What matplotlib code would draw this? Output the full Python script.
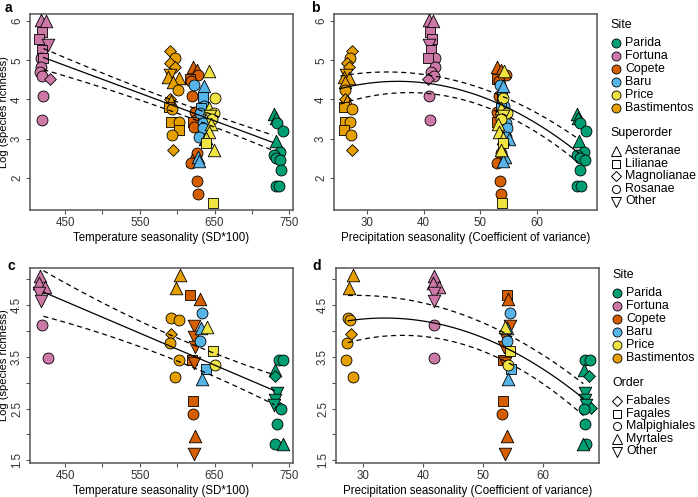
import matplotlib
matplotlib.use("Agg")
import matplotlib.pyplot as plt
from matplotlib.lines import Line2D
import numpy as np

plt.rcParams['font.family'] = ['Liberation Sans', 'DejaVu Sans']

# ---------------- categories ----------------
site_names = ['Parida', 'Fortuna', 'Copete', 'Baru', 'Price', 'Bastimentos']
site_colors = ['#009E73', '#CC79A7', '#D55E00', '#56B4E9', '#F0E442', '#E69F00']
superorder_names = ['Asteranae', 'Lilianae', 'Magnolianae', 'Rosanae', 'Other']
superorder_markers = ['^', 's', 'D', 'o', 'v']
order_names = ['Fabales', 'Fagales', 'Malpighiales', 'Myrtales', 'Other']
order_markers = ['D', 's', 'o', '^', 'v']

# ---------------- data: superorder (panels a, b) ----------------
sup_site = (['Fortuna'] * 14 + ['Bastimentos'] * 18 + ['Copete'] * 15 +
            ['Baru'] * 12 + ['Price'] * 12 + ['Parida'] * 12)
sup_group = [
    # Fortuna
    'Asteranae', 'Asteranae', 'Lilianae', 'Lilianae', 'Other', 'Lilianae', 'Rosanae',
    'Lilianae', 'Rosanae', 'Rosanae', 'Rosanae', 'Magnolianae', 'Rosanae', 'Rosanae',
    # Bastimentos
    'Magnolianae', 'Rosanae', 'Magnolianae', 'Magnolianae', 'Other', 'Asteranae',
    'Asteranae', 'Asteranae', 'Rosanae', 'Magnolianae', 'Asteranae', 'Lilianae',
    'Rosanae', 'Lilianae', 'Rosanae', 'Lilianae', 'Rosanae', 'Magnolianae',
    # Copete
    'Asteranae', 'Asteranae', 'Rosanae', 'Lilianae', 'Rosanae', 'Rosanae', 'Rosanae',
    'Rosanae', 'Lilianae', 'Rosanae', 'Rosanae', 'Asteranae', 'Rosanae', 'Rosanae',
    'Rosanae',
    # Baru
    'Rosanae', 'Asteranae', 'Lilianae', 'Rosanae', 'Lilianae', 'Rosanae', 'Rosanae',
    'Rosanae', 'Rosanae', 'Asteranae', 'Asteranae', 'Asteranae',
    # Price
    'Asteranae', 'Rosanae', 'Asteranae', 'Rosanae', 'Other', 'Rosanae', 'Asteranae',
    'Asteranae', 'Asteranae', 'Lilianae', 'Asteranae', 'Lilianae',
    # Parida
    'Asteranae', 'Asteranae', 'Rosanae', 'Rosanae', 'Asteranae', 'Rosanae', 'Rosanae',
    'Rosanae', 'Rosanae', 'Rosanae', 'Rosanae', 'Rosanae']
sup_logS = [
    6.02, 6.00, 5.72, 5.53, 5.40, 5.27, 5.05, 5.05, 4.83, 4.70, 4.59, 4.52, 4.10, 3.47,
    5.23, 5.07, 4.92, 4.82, 4.62, 4.58, 4.55, 4.45, 4.25, 4.00, 3.95, 3.82, 3.76, 3.43,
    3.43, 3.23, 3.10, 2.71,
    4.83, 4.75, 4.62, 4.53, 4.47, 4.08, 3.68, 3.47, 3.43, 3.30, 2.63, 2.45, 2.38, 1.93,
    1.60,
    4.38, 4.35, 4.05, 3.84, 3.78, 3.66, 3.40, 3.27, 3.05, 2.98, 2.52, 2.42,
    4.73, 4.04, 3.78, 3.65, 3.58, 3.50, 3.38, 3.18, 3.02, 2.88, 2.71, 1.37,
    3.62, 3.52, 3.40, 3.20, 2.93, 2.65, 2.58, 2.50, 2.45, 2.20, 1.78, 1.78]
sup_temp = [
    417.6, 424.7, 419.6, 414.5, 426.8, 418.6, 417.6, 420.6, 417.6, 416.5, 419.6, 429.9, 420.6, 418.6,
    590, 597, 590, 597, 590, 588, 602, 594, 601, 590, 592, 589, 593, 592, 602, 603, 593, 594,
    621, 626, 628, 617, 619, 620, 624, 625, 621, 623, 626, 620, 619, 627, 628,
    623, 636, 634, 636, 632, 630, 635, 634, 629, 637, 628, 629,
    642, 650, 643, 649, 644, 647, 645, 643, 639, 639, 649, 648,
    729, 732, 734, 741, 732, 737, 729, 732, 738, 739, 732, 736]
sup_precip = [
    41.0, 41.6, 41.2, 41.5, 41.0, 41.3, 42.0, 40.7, 42.0, 41.3, 41.9, 40.8, 41.0, 41.2,
    27.4, 27.0, 26.5, 26.8, 26.3, 26.0, 26.8, 26.2, 26.2, 26.2, 26.5, 26.0, 27.4, 26.2,
    27.0, 26.0, 27.2, 27.4,
    53.0, 53.6, 54.6, 53.0, 53.3, 53.3, 53.0, 53.5, 52.9, 53.8, 53.6, 53.2, 53.0, 53.5, 53.7,
    53.5, 54.0, 53.9, 54.2, 53.6, 54.3, 54.6, 54.8, 54.5, 55.0, 54.3, 54.0,
    54.2, 54.0, 53.6, 54.7, 54.1, 53.6, 53.2, 53.3, 54.1, 54.0, 53.7, 53.9,
    67.0, 67.3, 67.6, 68.6, 67.4, 68.3, 67.0, 67.6, 68.5, 67.6, 67.0, 67.7]

# ---------------- data: order (panels c, d) ----------------
ord_site = (['Fortuna'] * 7 + ['Bastimentos'] * 8 + ['Copete'] * 11 +
            ['Baru'] * 5 + ['Price'] * 3 + ['Parida'] * 12)
ord_group = [
    'Myrtales', 'Myrtales', 'Myrtales', 'Other', 'Other', 'Malpighiales', 'Malpighiales',
    'Myrtales', 'Myrtales', 'Malpighiales', 'Malpighiales', 'Fabales', 'Malpighiales',
    'Malpighiales', 'Malpighiales',
    'Fagales', 'Myrtales', 'Other', 'Other', 'Other', 'Fagales', 'Other', 'Fagales',
    'Malpighiales', 'Myrtales', 'Other',
    'Malpighiales', 'Myrtales', 'Malpighiales', 'Fagales', 'Myrtales',
    'Myrtales', 'Fagales', 'Malpighiales',
    'Malpighiales', 'Malpighiales', 'Myrtales', 'Fabales', 'Other', 'Other', 'Other',
    'Fabales', 'Malpighiales', 'Malpighiales', 'Malpighiales', 'Myrtales']
ord_logS = [
    5.05, 4.92, 4.85, 4.72, 4.58, 4.12, 3.47,
    5.08, 4.82, 4.25, 4.21, 3.94, 3.76, 3.43, 3.10,
    4.68, 4.62, 4.09, 3.88, 3.68, 3.44, 3.38, 2.64, 2.40, 1.98, 1.62,
    4.34, 4.06, 3.80, 3.27, 3.07,
    4.08, 3.60, 3.34,
    3.43, 3.43, 3.25, 3.12, 2.80, 2.67, 2.56, 2.52, 2.50, 2.20, 1.81, 1.82]
ord_temp = [
    416.7, 414.4, 423.3, 415.7, 417.6, 418.9, 427.7,
    604, 599, 592, 603, 592, 590, 602, 597,
    617, 630, 622, 623, 624, 620, 622, 621, 621, 624, 623,
    633, 632, 630, 638, 633,
    640, 648, 650,
    736, 741, 731, 731, 733, 731, 729, 737, 739, 734, 731, 741]
ord_precip = [
    41.9, 41.7, 42.7, 41.8, 41.9, 41.8, 41.8,
    28.4, 27.7, 27.5, 27.8, 28.0, 27.3, 27.1, 28.3,
    53.9, 54.2, 54.4, 53.6, 53.4, 53.3, 53.7, 53.3, 53.1, 53.9, 53.6,
    54.4, 53.9, 53.9, 54.6, 54.2,
    53.6, 54.4, 54.1,
    67.0, 67.8, 66.8, 67.6, 66.9, 67.0, 67.1, 68.0, 66.8, 67.0, 67.2, 66.6]

# ---------------- fitted model curves ----------------
fit_a_x = [421, 570, 684, 728]
fit_a_mid = [5.07, 4.02, 3.22, 2.90]
fit_a_hi = [5.30, 4.15, 3.37, 3.09]
fit_a_lo = [4.76, 3.86, 3.03, 2.71]

fit_b_x = [25.3, 34.1, 41.2, 46.5, 55.3, 67.3]
fit_b_mid = [4.31, 4.42, 4.36, 4.25, 3.83, 2.61]
fit_b_hi = [4.64, 4.64, 4.59, 4.45, 4.07, 2.96]
fit_b_lo = [3.98, 4.00, 4.05, 4.11, 3.65, 2.33]

fit_c_x = [421, 563, 683, 730]
fit_c_mid = [4.75, 3.87, 3.12, 2.86]
fit_c_hi = [5.16, 4.09, 3.40, 3.14]
fit_c_lo = [4.28, 3.62, 2.91, 2.57]

fit_d_x = [27.5, 34.4, 41.8, 46.1, 54.4, 66.7]
fit_d_mid = [4.20, 4.25, 4.12, 4.01, 3.68, 2.68]
fit_d_hi = [4.69, 4.62, 4.50, 4.34, 3.90, 2.98]
fit_d_lo = [3.77, 3.92, 3.87, 3.69, 3.43, 2.35]

# ---------------- styling ----------------
W, H = 698, 497
fig = plt.figure(figsize=(W / 100, H / 100), dpi=100)

def fax(l, t, r, b):
    return fig.add_axes([l / W, 1 - b / H, (r - l) / W, (b - t) / H])

ax_a = fax(30, 14, 293, 210)
ax_b = fax(334, 14, 597, 210)
ax_c = fax(30, 268, 293, 463)
ax_d = fax(336, 268, 599, 463)

marker_s = {'o': 62, '^': 82, 'v': 82, 's': 48, 'D': 36}
color_of = dict(zip(site_names, site_colors))
GREY = '#555555'


def draw_points(ax, xs, ys, sites, groups, names, markers):
    mk = dict(zip(names, markers))
    for x, y, s, g in zip(xs, ys, sites, groups):
        m = mk[g]
        ax.scatter([x], [y], marker=m, s=marker_s[m], facecolor=color_of[s],
                   edgecolor='black', linewidths=0.6, zorder=3)


def draw_fit(ax, fx, mid, hi, lo, deg_mid):
    xx = np.linspace(min(fx), max(fx), 200)
    pm = np.polyfit(fx, mid, deg_mid)
    ph = np.polyfit(fx, hi, 2)
    pl = np.polyfit(fx, lo, 2)
    ax.plot(xx, np.polyval(pm, xx), color='black', lw=0.9, zorder=4)
    ax.plot(xx, np.polyval(ph, xx), color='black', lw=0.9, ls=(0, (4, 3)), zorder=4)
    ax.plot(xx, np.polyval(pl, xx), color='black', lw=0.9, ls=(0, (4, 3)), zorder=4)


def style(ax, xlim, ylim, xmaj, xmin_, ymaj, ymin_, xlabel, ylabel, fmt):
    ax.set_xlim(*xlim)
    ax.set_ylim(*ylim)
    ax.set_xticks(xmaj)
    ax.set_xticks(xmin_, minor=True)
    ax.set_yticks(ymaj)
    ax.set_yticks(ymin_, minor=True)
    ax.set_yticklabels([fmt.format(v) for v in ymaj], rotation=90, va='center')
    for sp in ax.spines.values():
        sp.set_color(GREY)
        sp.set_linewidth(1.1)
    ax.tick_params(which='both', direction='out', color=GREY, width=0.8,
                   labelsize=8.3, labelcolor='#333333')
    ax.tick_params(which='major', length=3, pad=2)
    ax.tick_params(which='minor', length=3)
    ax.set_xlabel(xlabel, fontsize=8.3, labelpad=2)
    if ylabel:
        ax.set_ylabel(ylabel, fontsize=8.0)
        ax.yaxis.set_label_coords(-20.5 / 263, 0.5)


# Panel a
draw_fit(ax_a, fit_a_x, fit_a_mid, fit_a_hi, fit_a_lo, 1)
draw_points(ax_a, sup_temp, sup_logS, sup_site, sup_group, superorder_names, superorder_markers)
style(ax_a, (403, 755), (1.18, 6.18), [450, 550, 650, 750], [500, 600, 700],
      [2, 3, 4, 5, 6], [], 'Temperature seasonality (SD*100)', 'Log (species richness)', '{:g}')

# Panel b
draw_fit(ax_b, fit_b_x, fit_b_mid, fit_b_hi, fit_b_lo, 2)
draw_points(ax_b, sup_precip, sup_logS, sup_site, sup_group, superorder_names, superorder_markers)
style(ax_b, (24.2, 70.6), (1.18, 6.18), [30, 40, 50, 60], [],
      [2, 3, 4, 5, 6], [], 'Precipitation seasonality (Coefficient of variance)', None, '{:g}')

# Panel c
draw_fit(ax_c, fit_c_x, fit_c_mid, fit_c_hi, fit_c_lo, 1)
draw_points(ax_c, ord_temp, ord_logS, ord_site, ord_group, order_names, order_markers)
style(ax_c, (403, 755), (1.45, 5.21), [450, 550, 650, 750], [500, 600, 700],
      [1.5, 2.5, 3.5, 4.5], [2, 3, 4, 5], 'Temperature seasonality (SD*100)',
      'Log (species richness)', '{:.1f}')

# Panel d
draw_fit(ax_d, fit_d_x, fit_d_mid, fit_d_hi, fit_d_lo, 2)
draw_points(ax_d, ord_precip, ord_logS, ord_site, ord_group, order_names, order_markers)
style(ax_d, (25.5, 69.3), (1.45, 5.21), [30, 40, 50, 60], [],
      [1.5, 2.5, 3.5, 4.5], [2, 3, 4, 5], 'Precipitation seasonality (Coefficient of variance)',
      None, '{:.1f}')

# Panel letters
for (x, y, lab) in [(5, 1, 'a'), (311, 1, 'b'), (7, 259, 'c'), (312, 259, 'd')]:
    fig.text(x / W, 1 - y / H, lab, fontsize=10, fontweight='bold', va='top', ha='left')


# Legends (manual layout)
def legend_block(top_title_y, title2, names2, markers2, x_title, x_mark, x_text):
    fs = 8.9
    fig.text(x_title / W, 1 - top_title_y / H, 'Site', fontsize=fs, va='center', ha='left')
    for i, (n, c) in enumerate(zip(site_names, site_colors)):
        y = top_title_y + 17.7 + i * 13.0
        fig.add_artist(Line2D([x_mark / W], [1 - y / H], marker='o', markersize=6.5,
                              markerfacecolor=c, markeredgecolor='black',
                              markeredgewidth=0.6, transform=fig.transFigure))
        fig.text(x_text / W, 1 - y / H, n, fontsize=fs, va='center', ha='left')
    y2 = top_title_y + 107.8
    fig.text(x_title / W, 1 - y2 / H, title2, fontsize=fs, va='center', ha='left')
    leg_ms = {'o': 5.8, '^': 7.4, 'v': 7.4, 's': 5.2, 'D': 4.8}
    for i, (n, m) in enumerate(zip(names2, markers2)):
        y = y2 + 18.3 + i * 12.6
        fig.add_artist(Line2D([x_mark / W], [1 - y / H], marker=m, markersize=leg_ms[m],
                              markerfacecolor='white', markeredgecolor='black',
                              markeredgewidth=0.7, transform=fig.transFigure))
        fig.text(x_text / W, 1 - y / H, n, fontsize=fs, va='center', ha='left')


legend_block(25, 'Superorder', superorder_names, superorder_markers, 610.5, 615.5, 625)
legend_block(275, 'Order', order_names, order_markers, 612, 616.5, 626)

fig.savefig('out.png', dpi=100)
